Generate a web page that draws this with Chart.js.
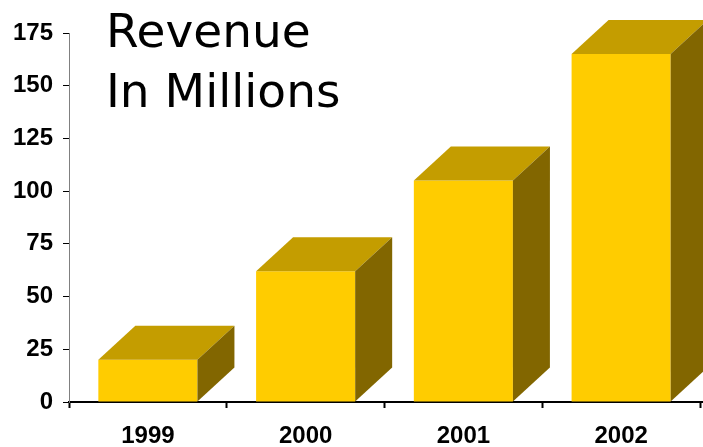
<!DOCTYPE html>
<html>
<head>
<meta charset="utf-8">
<script src="https://cdn.jsdelivr.net/npm/chart.js@4/dist/chart.umd.min.js"></script>
<style>
html, body { margin: 0; padding: 0; background: #fff; }
</style>
</head>
<body>
<canvas id="revenueChart" width="703" height="447"></canvas>
<script>
// data
const years = ['1999', '2000', '2001', '2002'];
const revenue = [20, 62, 105, 165];
const yMax = 175;
const yStep = 25;
const titleLines = ['Revenue', 'In Millions'];

// 3d look of the bars
const depthX = 37;
const depthY = 34;

const bar3d = {
    id: 'bar3d',
    afterDatasetsDraw(chart) {
        const ctx = chart.ctx;
        const meta = chart.getDatasetMeta(0);
        ctx.save();
        meta.data.forEach(function (bar) {
            const p = bar.getProps(['x', 'y', 'base', 'width'], true);
            const l = p.x - p.width / 2;
            const r = p.x + p.width / 2;
            const t = p.y;
            const b = p.base;
            // top face
            ctx.fillStyle = '#C49D00';
            ctx.beginPath();
            ctx.moveTo(l, t);
            ctx.lineTo(l + depthX, t - depthY);
            ctx.lineTo(r + depthX, t - depthY);
            ctx.lineTo(r, t);
            ctx.closePath();
            ctx.fill();
            // side face
            ctx.fillStyle = '#826600';
            ctx.beginPath();
            ctx.moveTo(r, t);
            ctx.lineTo(r + depthX, t - depthY);
            ctx.lineTo(r + depthX, b - depthY);
            ctx.lineTo(r, b);
            ctx.closePath();
            ctx.fill();
        });
        ctx.restore();
    },
    afterDraw(chart) {
        const ctx = chart.ctx;
        const area = chart.chartArea;
        const y0 = chart.scales.y.getPixelForValue(0);
        ctx.save();
        // x axis line runs on to the right edge
        ctx.strokeStyle = '#000';
        ctx.lineWidth = 2;
        ctx.beginPath();
        ctx.moveTo(area.right - 1, y0);
        ctx.lineTo(chart.width, y0);
        ctx.stroke();
        // title text inside the plot
        ctx.fillStyle = '#000';
        ctx.font = '47px "DejaVu Sans"';
        ctx.textBaseline = 'alphabetic';
        ctx.textAlign = 'left';
        titleLines.forEach(function (line, i) {
            ctx.fillText(line, 106, 47 + i * 60);
        });
        ctx.restore();
    }
};

new Chart(document.getElementById('revenueChart'), {
    type: 'bar',
    data: {
        labels: years,
        datasets: [{
            data: revenue,
            backgroundColor: '#FFCC00',
            borderWidth: 0,
            categoryPercentage: 1,
            barPercentage: 0.628
        }]
    },
    options: {
        responsive: false,
        devicePixelRatio: 1,
        animation: false,
        layout: { padding: { top: 33, right: 3, left: 0, bottom: 0 } },
        plugins: {
            legend: { display: false },
            tooltip: { enabled: false },
            title: { display: false }
        },
        scales: {
            x: {
                grid: { offset: true, drawOnChartArea: false, tickLength: 6, tickColor: '#000', tickWidth: 2 },
                border: { color: '#000', width: 2 },
                ticks: { color: '#000', padding: 14, font: { family: '"Liberation Sans", Arial', size: 24, weight: 'bold' } },
                afterFit: function (s) { s.height = 45; }
            },
            y: {
                min: 0,
                max: yMax,
                grid: { drawOnChartArea: false, tickLength: 6, tickColor: '#000', tickWidth: 1 },
                border: { color: '#808080', width: 1 },
                ticks: { stepSize: yStep, color: '#000', padding: 10, font: { family: '"Liberation Sans", Arial', size: 24, weight: 'bold' } },
                afterFit: function (s) { s.width = 69; }
            }
        }
    },
    plugins: [bar3d]
});
</script>
</body>
</html>
